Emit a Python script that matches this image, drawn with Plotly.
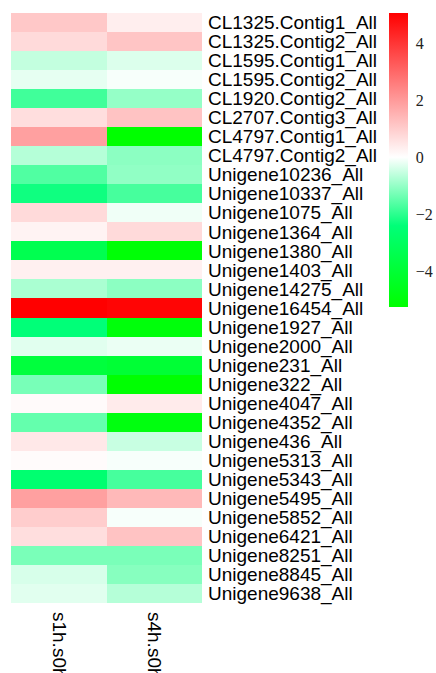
import plotly.graph_objects as go

W, H = 436, 673

genes = [
    "CL1325.Contig1_All", "CL1325.Contig2_All", "CL1595.Contig1_All",
    "CL1595.Contig2_All", "CL1920.Contig2_All", "CL2707.Contig3_All",
    "CL4797.Contig1_All", "CL4797.Contig2_All", "Unigene10236_All",
    "Unigene10337_All", "Unigene1075_All", "Unigene1364_All",
    "Unigene1380_All", "Unigene1403_All", "Unigene14275_All",
    "Unigene16454_All", "Unigene1927_All", "Unigene2000_All",
    "Unigene231_All", "Unigene322_All", "Unigene4047_All",
    "Unigene4352_All", "Unigene436_All", "Unigene5313_All",
    "Unigene5343_All", "Unigene5495_All", "Unigene5852_All",
    "Unigene6421_All", "Unigene8251_All", "Unigene8845_All",
    "Unigene9638_All",
]
samples = ["s1h.s0h", "s4h.s0h"]

s1h = [1.09, 0.73, -0.56, -0.24, -1.80, 0.65, 1.88, -0.70, -1.65, -2.26,
       0.73, 0.24, -3.35, 0.30, -0.80, 5.05, -2.40, -0.28, -3.80, -1.27,
       0.10, -1.46, 0.45, 0.08, -2.60, 1.88, 0.99, 0.65, -1.25, -0.38,
       -0.28]
s4h = [0.34, 1.15, -0.33, -0.08, -1.00, 1.19, -5.25, -1.08, -1.04, -1.74,
       -0.14, 0.73, -5.10, 0.30, -1.08, 4.95, -5.00, -0.19, -4.00, -5.20,
       0.40, -4.90, -0.52, -0.08, -1.74, 1.39, -0.08, 1.19, -1.25, -1.13,
       -0.70]

zmin, zmax = -5.25, 5.05
zero = -zmin / (zmax - zmin)
spring = (2.4 / -zmin) * zero
colorscale = [
    [0.0, "rgb(0,255,0)"],
    [zero - spring, "rgb(0,255,120)"],
    [zero, "rgb(255,255,255)"],
    [1.0, "rgb(255,0,0)"],
]

z = [[a, b] for a, b in zip(s1h, s4h)]

# plot area in pixels
x0, x1 = 11, 202
y_top, y_bot = 13, 603

fig = go.Figure(go.Heatmap(
    z=z, x=samples, y=genes,
    zmin=zmin, zmax=zmax, colorscale=colorscale,
    colorbar=dict(
        x=389 / W, xanchor="left", xpad=0,
        y=1 - 13 / H, yanchor="top", ypad=0,
        len=294 / H, lenmode="fraction",
        thickness=19, thicknessmode="pixels",
        outlinewidth=0,
        ticks="outside", ticklen=5, tickcolor="rgba(0,0,0,0)",
        tickvals=[-4, -2, 0, 2, 4],
        tickfont=dict(family="Liberation Serif, DejaVu Serif, serif",
                      size=16, color="#222"),
    ),
))

fig.update_layout(
    width=W, height=H, autosize=False,
    margin=dict(l=0, r=0, t=0, b=0, autoexpand=False),
    paper_bgcolor="white", plot_bgcolor="white",
    xaxis=dict(
        domain=[x0 / W, x1 / W], tickangle=90, showgrid=False,
        zeroline=False, showline=False, ticks="", automargin=False,
        tickmode="array", tickvals=samples, ticktext=samples,
        ticklabelstandoff=8,
        tickfont=dict(family="Liberation Sans", size=19, color="black"),
    ),
    yaxis=dict(
        domain=[1 - y_bot / H, 1 - y_top / H], side="right",
        autorange="reversed", showgrid=False, zeroline=False,
        showline=False, ticks="", automargin=False,
        tickmode="array", tickvals=genes, ticktext=genes,
        ticklabelstandoff=5,
        tickfont=dict(family="Liberation Sans", size=19, color="black"),
    ),
)

fig.write_html("out.html")
